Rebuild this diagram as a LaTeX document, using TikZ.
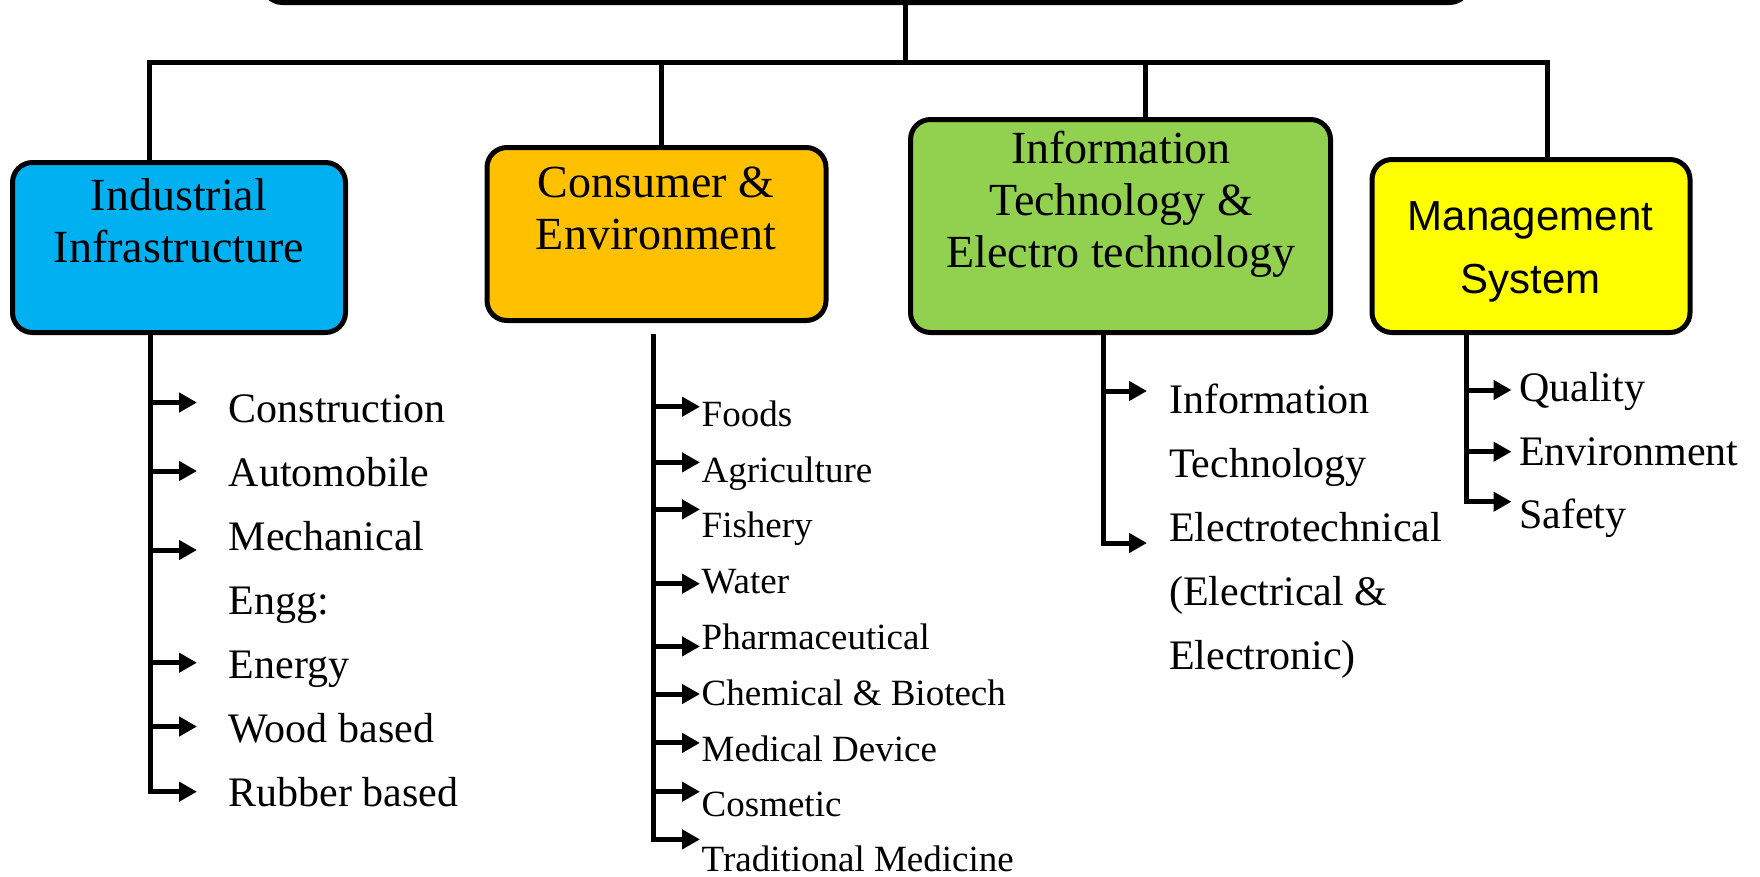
\documentclass[tikz,border=0pt]{standalone}
\usepackage{fontspec}
\setmainfont{Liberation Serif}
\newfontfamily\sansfam{Liberation Sans}
\usetikzlibrary{arrows.meta}
\definecolor{cblue}{HTML}{00B0F0}
\definecolor{corange}{HTML}{FFC000}
\definecolor{cgreen}{HTML}{92D050}
\definecolor{cyellow}{HTML}{FFFF00}
\begin{document}
\begin{tikzpicture}[x=1pt,y=-1pt,
  box/.style={draw=black, line width=5pt, rounded corners=20pt, inner sep=0pt},
  conn/.style={line width=5pt, line join=miter},
  arr/.style={line width=5pt, line join=miter, -{Triangle[length=18pt,width=19pt]}},
  ttl/.style={inner sep=0pt, anchor=base, font=\fontsize{46}{52}\selectfont},
  ttls/.style={inner sep=0pt, anchor=base, font=\sansfam\fontsize{42}{63}\selectfont},
  itm/.style={inner sep=0pt, anchor=base west, font=\fontsize{42}{64}\selectfont},
  itms/.style={inner sep=0pt, anchor=base west, font=\fontsize{37}{55.8}\selectfont},
]
\useasboundingbox (0,0) rectangle (1760,876);

% boxes
\node[box, fill=white, minimum width=1207pt, minimum height=90pt] (top) at (866,-42.5) {};
\node[box, fill=cblue, minimum width=333pt, minimum height=170pt] (b1) at (179,247.5) {};
\node[box, fill=corange, minimum width=339pt, minimum height=173pt] (b2) at (656.5,234) {};
\node[box, fill=cgreen, minimum width=420pt, minimum height=213pt] (b3) at (1120.5,226) {};
\node[box, fill=cyellow, minimum width=318pt, minimum height=173pt] (b4) at (1531,246) {};

% titles
\node[ttl] (t1) at (179,210.7) {\begin{tabular}[t]{@{}c@{}}Industrial\\Infrastructure\end{tabular}};
\node[ttl] (t2) at (656,197.3) {\begin{tabular}[t]{@{}c@{}}Consumer \&\\Environment\end{tabular}};
\node[ttl] (t3) at (1121,163.3) {\begin{tabular}[t]{@{}c@{}}Information\\Technology \&\\Electro technology\end{tabular}};
\node[ttls] (t4) at (1530.5,230) {\begin{tabular}[t]{@{}c@{}}Management\\System\end{tabular}};

% bus
\coordinate (hub) at (905,62.5);
\coordinate (bus1) at (149,62.5);
\coordinate (bus2) at (661,62.5);
\coordinate (bus3) at (1145,62.5);
\coordinate (bus4) at (1547,62.5);
\draw[conn] (top.south -| hub) -- (hub);
\draw[conn] (b1.north -| bus1) -- (bus1) -- (bus4) -- (b4.north -| bus4);
\draw[conn] (bus2) -- (b2.north -| bus2);
\draw[conn] (bus3) -- (b3.north -| bus3);

% column 1
\node[itm] (i11) at (228.5,422) {Construction};
\node[itm] (i12) at (228.5,486) {Automobile};
\node[itm] (i13) at (228.5,550) {\begin{tabular}[t]{@{}l@{}}Mechanical\\Engg:\end{tabular}};
\node[itm] (i14) at (228.5,678) {Energy};
\node[itm] (i15) at (228.5,742) {Wood based};
\node[itm] (i16) at (228.5,806) {Rubber based};
\coordinate (a11) at (150,402.5);
\coordinate (a12) at (150,471);
\coordinate (a13) at (150,550);
\coordinate (a14) at (150,662.7);
\coordinate (a15) at (150,726.5);
\coordinate (a16) at (150,791.7);
\draw[arr, shorten >=31.5pt] (b1.south -| a16) |- (a16 -| i16.west);
\foreach \k in {1,...,5} {
  \draw[arr, shorten >=31.5pt] (a1\k) -- (a1\k -| i1\k.west);
}

% column 2
\node[itms] (i21) at (701.5,426) {Foods};
\node[itms] (i22) at (701.5,482) {Agriculture};
\node[itms] (i23) at (701.5,537) {Fishery};
\node[itms] (i24) at (701.5,593) {Water};
\node[itms] (i25) at (701.5,649) {Pharmaceutical};
\node[itms] (i26) at (701.5,705) {Chemical \& Biotech};
\node[itms] (i27) at (701.5,761) {Medical Device};
\node[itms] (i28) at (701.5,816) {Cosmetic};
\node[itms] (i29) at (701.5,871) {Traditional Medicine};
\coordinate (top2) at (653,334);
\coordinate (a21) at (653,406.7);
\coordinate (a22) at (653,462.4);
\coordinate (a23) at (653,509.4);
\coordinate (a24) at (653,583.7);
\coordinate (a25) at (653,646.4);
\coordinate (a26) at (653,694);
\coordinate (a27) at (653,742.9);
\coordinate (a28) at (653,791.7);
\coordinate (a29) at (653,839.4);
\draw[arr, shorten >=1.5pt] (top2) |- (a29 -| i29.west);
\foreach \k in {1,...,8} {
  \draw[arr, shorten >=1.5pt] (a2\k) -- (a2\k -| i2\k.west);
}

% column 3
\node[itm] (i31) at (1169,413.3) {\begin{tabular}[t]{@{}l@{}}Information\\Technology\end{tabular}};
\node[itm] (i32) at (1169,541.3) {\begin{tabular}[t]{@{}l@{}}Electrotechnical\\(Electrical \&\\Electronic)\end{tabular}};
\coordinate (a31) at (1103,391);
\coordinate (a32) at (1103,543);
\draw[arr, shorten >=22pt] (b3.south -| a32) |- (a32 -| i32.west);
\draw[arr, shorten >=22pt] (a31) -- (a31 -| i31.west);

% column 4
\node[itm] (i41) at (1519,401.7) {Quality};
\node[itm] (i42) at (1519,465) {Environment};
\node[itm] (i43) at (1519,528) {Safety};
\coordinate (a41) at (1466,390);
\coordinate (a42) at (1466,451.7);
\coordinate (a43) at (1466,501.7);
\draw[arr, shorten >=7.5pt] (b4.south -| a43) |- (a43 -| i43.west);
\draw[arr, shorten >=7.5pt] (a41) -- (a41 -| i41.west);
\draw[arr, shorten >=7.5pt] (a42) -- (a42 -| i42.west);
\end{tikzpicture}
\end{document}
